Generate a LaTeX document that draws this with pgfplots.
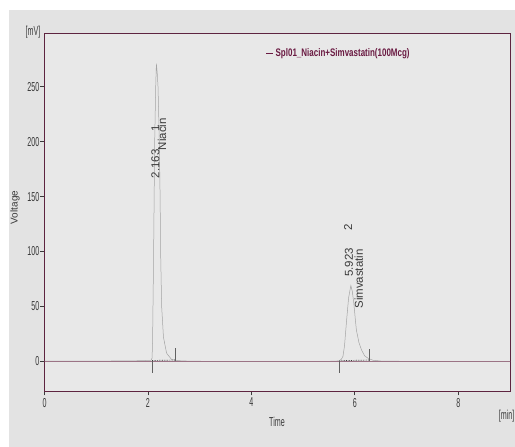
\documentclass[border=0pt]{standalone}
\usepackage{fontspec}
\setmainfont{Liberation Sans}
\newfontfamily\narrow{Liberation Sans}[FakeStretch=0.55]
\newfontfamily\narrowb{Liberation Sans}[FakeStretch=0.73]
\usepackage{pgfplots}
\pgfplotsset{compat=1.18}
\definecolor{bggray}{HTML}{E3E3E3}
\definecolor{plotbg}{HTML}{E8E8E8}
\definecolor{frame}{HTML}{5E2440}
\definecolor{zeroline}{HTML}{9C7486}
\definecolor{trace}{HTML}{A3A3A3}
\definecolor{legmaroon}{HTML}{6A1A42}
\definecolor{txt}{HTML}{3A3A3A}

\begin{document}
\begin{tikzpicture}[x=1bp,y=1bp]
\useasboundingbox (0,0) rectangle (515,447);
\fill[white] (0,0) rectangle (515,447);
\fill[bggray] (9,0) rectangle (515,437);
\begin{axis}[
    at={(44.5bp,56bp)}, anchor=south west,
    scale only axis, width=465.5bp, height=358bp,
    xmin=0, xmax=9, ymin=-27, ymax=299,
    axis background/.style={fill=plotbg},
    axis line style={frame, line width=0.8pt},
    xtick={0,2,4,6,8}, ytick={0,50,100,150,200,250},
    tick align=outside, xtick pos=bottom, ytick pos=left,
    major tick length=4.5bp,
    tick style={txt, line width=0.7pt},
    /pgf/number format/assume math mode=true,
    ticklabel style={font=\narrow\fontsize{13}{14}\selectfont, text=txt},
    xticklabel style={yshift=1bp},
    yticklabel style={inner sep=0.5bp},
    xlabel={Time},
    xlabel style={at={(axis description cs:0.4995,-0.0866)}, anchor=center,
        font=\narrow\fontsize{13}{14}\selectfont, text=txt},
    ylabel={Voltage},
    ylabel style={at={(axis description cs:-0.0634,0.5126)}, anchor=center,
        font=\fontsize{10}{11}\selectfont, text=txt},
    legend style={draw=none, fill=none, at={(0.475,0.944)}, anchor=west,
        font=\narrowb\bfseries\fontsize{11}{12}\selectfont, text=legmaroon,
        inner sep=0pt},
    legend cell align=left,
    clip=false,
]
\addlegendimage{legend image code/.code={\draw[legmaroon, line width=0.8pt] (0bp,0bp) -- (7bp,0bp);}}
\addlegendentry{Spl01\_Niacin+Simvastatin(100Mcg)}

% chromatogram trace
\addplot[trace, line width=0.5pt, forget plot] coordinates {
(0,0.2) (0.5,0.3) (1,0.2) (1.5,0.4) (1.9,0.6) (2.0,0.9) (2.06,1.0) (2.08,3)
(2.09,20) (2.10,60) (2.11,100) (2.12,150) (2.13,200) (2.15,250) (2.163,271)
(2.18,262) (2.195,250) (2.22,200) (2.235,150) (2.245,100) (2.265,50)
(2.30,22) (2.36,7.5) (2.46,1.5) (2.6,0.6) (2.8,0.2) (3.2,0) (4,0) (5,0)
(5.6,0.1) (5.70,0.5) (5.74,2) (5.77,4.5) (5.80,14) (5.84,37) (5.88,58)
(5.923,69) (5.95,64) (5.98,53) (6.01,38) (6.03,28.5) (6.08,17) (6.13,10.3)
(6.19,5) (6.26,2.7) (6.35,1) (6.5,0.3) (7,0) (8,0) (9,0)
};
% zero line
\addplot[zeroline, line width=0.6pt, forget plot] coordinates {(0,0) (9,0)};
% integration baselines
\addplot[txt, densely dotted, line width=0.7pt, forget plot] coordinates {(2.08,0.8) (2.535,1.2)};
\addplot[txt, densely dotted, line width=0.7pt, forget plot] coordinates {(5.70,0.6) (6.29,1.2)};
% peak start/end markers
\addplot[txt!80, line width=0.8pt, forget plot, unbounded coords=jump] coordinates {
(2.08,0) (2.08,-11) (nan,nan) (2.535,0) (2.535,12) (nan,nan)
(5.70,0) (5.70,-11) (nan,nan) (6.29,0) (6.29,11)
};

% peak labels
\node[rotate=90, font=\fontsize{11.5}{12}\selectfont, text=txt] at (axis cs:2.145,180) {2.163};
\node[rotate=90, font=\fontsize{11.5}{12}\selectfont, text=txt] at (axis cs:2.145,212.4) {1};
\node[rotate=90, font=\fontsize{11.5}{12}\selectfont, text=txt] at (axis cs:2.274,206.8) {Niacin};
\node[rotate=90, font=\fontsize{11.5}{12}\selectfont, text=txt] at (axis cs:5.888,90) {5.923};
\node[rotate=90, font=\fontsize{11.5}{12}\selectfont, text=txt] at (axis cs:5.87,122.3) {2};
\node[rotate=90, font=\fontsize{11.5}{12}\selectfont, text=txt] at (axis cs:6.077,75) {Simvastatin};

% unit labels
\node[font=\narrow\fontsize{13}{14}\selectfont, text=txt] at (axis description cs:-0.0247,1.0014) {[mV]};
\node[anchor=west, inner sep=0pt, font=\narrow\fontsize{13}{14}\selectfont, text=txt] at (axis description cs:0.9755,-0.0712) {[min]};
\end{axis}
\end{tikzpicture}
\end{document}
